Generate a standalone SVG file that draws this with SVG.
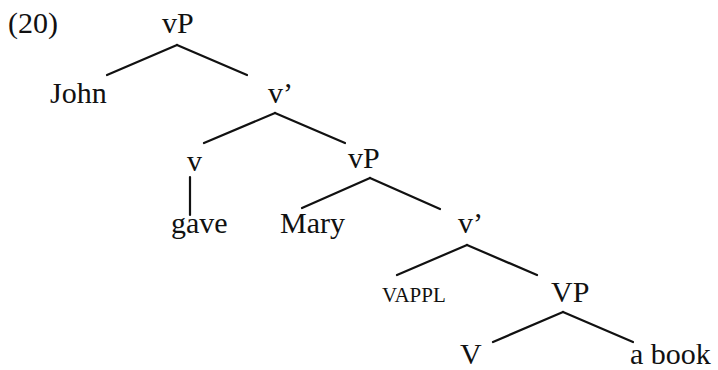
<svg xmlns="http://www.w3.org/2000/svg" width="718" height="370" viewBox="0 0 718 370">
<style>
  text { font-family: "Liberation Serif", "Times New Roman", serif; font-size: 30px; fill: #111; }
  .sc { font-size: 21px; }
  .edge { stroke: #111; stroke-width: 2.2; fill: none; stroke-linecap: round; }
</style>
<rect width="718" height="370" fill="#fff"/>
<text id="label" x="8" y="33">(20)</text>
<g id="connectors">
  <line class="edge" x1="177" y1="45" x2="107" y2="75"/>
  <line class="edge" x1="177" y1="45" x2="247" y2="75"/>
  <line class="edge" x1="275" y1="113" x2="204" y2="143"/>
  <line class="edge" x1="275" y1="113" x2="345" y2="143"/>
  <line class="edge" x1="190" y1="177" x2="190" y2="215"/>
  <line class="edge" x1="370" y1="178" x2="302" y2="208"/>
  <line class="edge" x1="370" y1="178" x2="440" y2="209"/>
  <line class="edge" x1="467" y1="245" x2="397" y2="275"/>
  <line class="edge" x1="467" y1="245" x2="537" y2="275"/>
  <line class="edge" x1="563" y1="312" x2="493" y2="342"/>
  <line class="edge" x1="563" y1="312" x2="633" y2="342"/>
</g>
<g id="n-vP1"><text x="162" y="33">vP</text></g>
<g id="n-John"><text x="50" y="103">John</text></g>
<g id="n-vbar1"><text x="268" y="103">v’</text></g>
<g id="n-v"><text x="187" y="171">v</text></g>
<g id="n-gave"><text x="171" y="233">gave</text></g>
<g id="n-vP2"><text x="348" y="168">vP</text></g>
<g id="n-Mary"><text x="280" y="233">Mary</text></g>
<g id="n-vbar2"><text x="458" y="233">v’</text></g>
<g id="n-vappl"><text class="sc" x="382" y="302">VAPPL</text></g>
<g id="n-VP"><text x="551" y="302">VP</text></g>
<g id="n-V"><text x="460" y="364">V</text></g>
<g id="n-abook"><text x="630" y="364">a book</text></g>
</svg>
